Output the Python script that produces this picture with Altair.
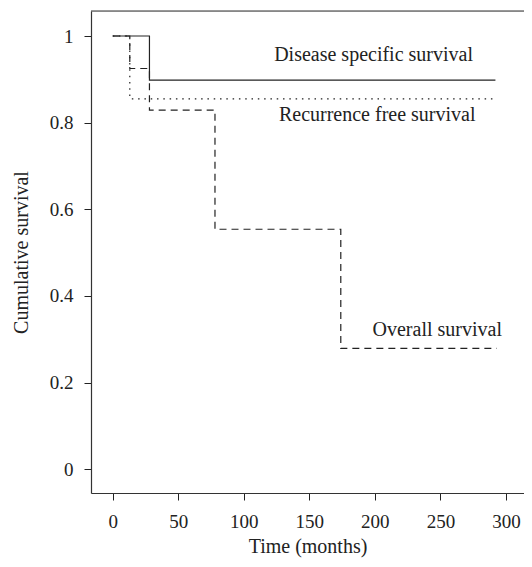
import altair as alt
import pandas as pd

# Step survival curves (time in months, cumulative survival)
dss_time = [0, 28, 28, 292]
dss_surv = [1.0, 1.0, 0.898, 0.898]

rfs_time = [0, 13, 13, 292]
rfs_surv = [1.0, 1.0, 0.855, 0.855]

os_time = [0, 13, 13, 28, 28, 78, 78, 174, 174, 293]
os_surv = [1.0, 1.0, 0.925, 0.925, 0.829, 0.829, 0.554, 0.554, 0.279, 0.279]

label_text = ["Disease specific survival", "Recurrence free survival", "Overall survival"]
label_x = [199.0, 201.8, 247.6]
label_y = [0.956, 0.818, 0.321]

x_ticks = [0, 50, 100, 150, 200, 250, 300]
y_ticks = [0, 0.2, 0.4, 0.6, 0.8, 1]

FONT = "Liberation Serif"
INK = "#222222"
FRAME = "#333333"
W, H = 433, 482

def curve(t, s, name):
    return pd.DataFrame({"time": t, "surv": s, "curve": name, "order": range(len(t))})

x_scale = alt.Scale(domain=[-16.6, 313.8], nice=False, zero=False)
y_scale = alt.Scale(domain=[-0.0547, 1.0577], nice=False, zero=False)

x_axis = alt.Axis(title="Time (months)", values=x_ticks, grid=False, domain=True,
                  domainColor=FRAME, domainWidth=1.2,
                  tickColor=INK, tickSize=7, tickWidth=1, labelColor=INK,
                  labelFont=FONT, labelFontSize=19, labelPadding=12,
                  titleFont=FONT, titleFontSize=20, titleFontWeight="normal",
                  titleColor=INK, titlePadding=5, labelFlush=False)
y_axis = alt.Axis(title="Cumulative survival", values=y_ticks, grid=False, domain=True,
                  domainColor=FRAME, domainWidth=1.2,
                  tickColor=INK, tickSize=7, tickWidth=1, labelColor=INK,
                  labelFont=FONT, labelFontSize=19, labelPadding=11,
                  titleFont=FONT, titleFontSize=20, titleFontWeight="normal",
                  titleColor=INK, titlePadding=18, labelFlush=False,
                  format="~g")

def line(df, dash):
    return alt.Chart(df).mark_line(color=INK, strokeWidth=1.2, strokeDash=dash,
                                   interpolate="linear").encode(
        x=alt.X("time:Q", scale=x_scale, axis=x_axis),
        y=alt.Y("surv:Q", scale=y_scale, axis=y_axis),
        order="order:Q",
    )

dss = line(curve(dss_time, dss_surv, "DSS"), [1, 0])
rfs = line(curve(rfs_time, rfs_surv, "RFS"), [1.5, 4.8])
ovs = line(curve(os_time, os_surv, "OS"), [7, 5])

labels = alt.Chart(pd.DataFrame({"t": label_text, "x": label_x, "y": label_y})).mark_text(
    font=FONT, fontSize=20, color=INK, align="center", baseline="middle"
).encode(
    x=alt.X("x:Q", scale=x_scale, axis=x_axis),
    y=alt.Y("y:Q", scale=y_scale, axis=y_axis),
    text="t:N",
)

top_border = alt.Chart(pd.DataFrame({"a": [0]})).mark_rule(
    color=FRAME, strokeWidth=1.2
).encode(x=alt.value(0), x2=alt.value(W + 10), y=alt.value(0))

chart = alt.layer(dss, rfs, ovs, labels, top_border).properties(
    width=W, height=H,
    autosize=alt.AutoSizeParams(type="none"),
    padding={"left": 83, "top": 3, "right": 0, "bottom": 66},
).configure_view(stroke=None).configure(background="white")

chart.save("out.html", embed_options={"renderer": "svg", "actions": False})
